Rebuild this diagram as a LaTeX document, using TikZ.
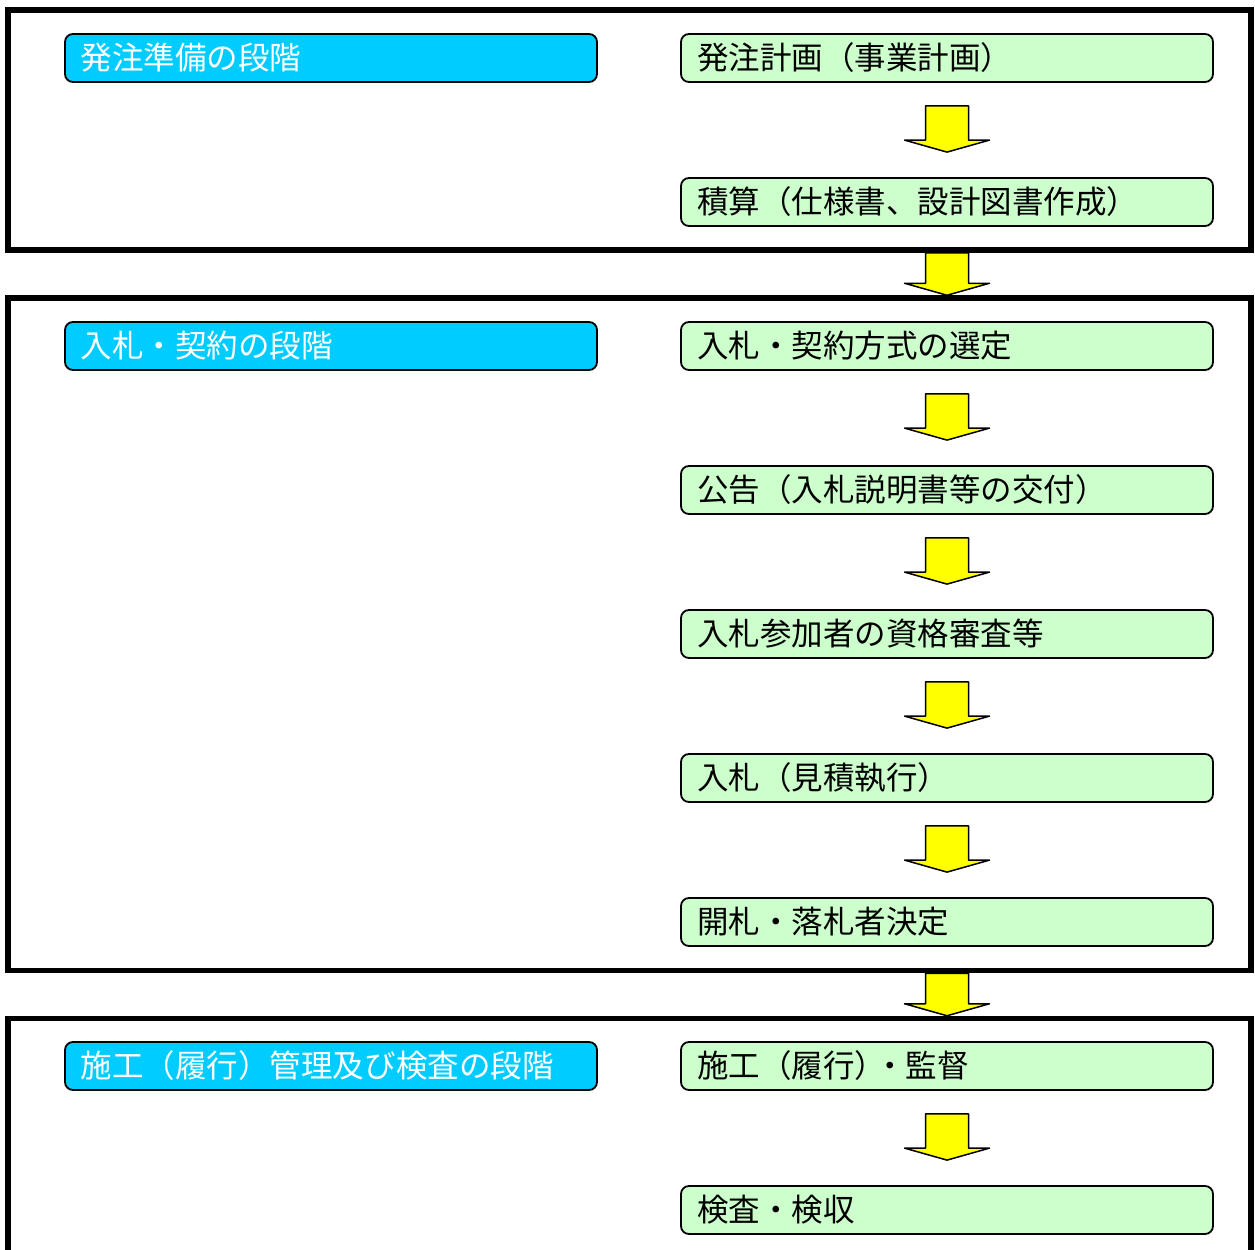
\documentclass[tikz,border=0pt]{standalone}
\usepackage{fontspec}
\setmainfont{Noto Sans CJK JP}
\usetikzlibrary{calc,backgrounds}
\definecolor{stageblue}{HTML}{00CCFF}
\definecolor{stepgreen}{HTML}{CCFFCC}
\definecolor{arrowyellow}{HTML}{FFFF00}
\tikzset{
  frame/.style={draw=black, line width=5.5bp, minimum width=1243bp, inner sep=0pt},
  stagebox/.style={draw=black, line width=1.8bp, rounded corners=8bp, fill=stageblue,
    text=white, minimum width=532bp, minimum height=48bp, text width=500bp,
    inner xsep=16bp, inner ysep=0pt, align=left, font=\fontsize{31.5bp}{34bp}\selectfont},
  stepbox/.style={draw=black, line width=1.8bp, rounded corners=8bp, fill=stepgreen,
    text=black, minimum width=532bp, minimum height=48bp, text width=500bp,
    inner xsep=16bp, inner ysep=0pt, align=left, font=\fontsize{31.5bp}{34bp}\selectfont},
  blockarrowsty/.style={fill=arrowyellow, draw=black, line width=1.5bp, line join=round}
}
% #1 start anchor, #2 downward offset, #3 end anchor, #4 upward offset
\newcommand{\blockarrow}[4]{%
  \draw[blockarrowsty]
    ($(#1)+(-21.5,#2)$) -- ($(#1)+(21.5,#2)$) -- ($(#3)+(21.5,-#4-12)$) --
    ($(#3)+(42.5,-#4-12)$) -- ($(#3)+(0,-#4)$) -- ($(#3)+(-42.5,-#4-12)$) --
    ($(#3)+(-21.5,-#4-12)$) -- cycle;}
\begin{document}
\begin{tikzpicture}[x=1bp,y=-1bp]
\useasboundingbox (0,0) rectangle (1255,1250);
% frames
\node[frame, minimum height=240bp] (f1) at (629.5,130) {};
\node[frame, minimum height=672.5bp] (f2) at (629.5,634.25) {};
\node[frame, minimum height=290bp] (f3) at (629.5,1163.5) {};
% stage labels
\node[stagebox] (s1) at (331,58) {発注準備の段階};
\node[stagebox] (s2) at (331,346) {入札・契約の段階};
\node[stagebox] (s3) at (331,1066) {施工（履行）管理及び検査の段階};
% steps
\node[stepbox] (g1) at (947,58) {発注計画（事業計画）};
\node[stepbox] (g2) at (947,202) {積算（仕様書、設計図書作成）};
\node[stepbox] (g3) at (947,346) {入札・契約方式の選定};
\node[stepbox] (g4) at (947,490) {公告（入札説明書等の交付）};
\node[stepbox] (g5) at (947,634) {入札参加者の資格審査等};
\node[stepbox] (g6) at (947,778) {入札（見積執行）};
\node[stepbox] (g7) at (947,922) {開札・落札者決定};
\node[stepbox] (g8) at (947,1066) {施工（履行）\hspace{-12bp}・監督};
\node[stepbox] (g9) at (947,1210) {検査・検収};
% arrows
\begin{scope}[on background layer]
\blockarrow{g1.south}{23}{g2.north}{25}
\blockarrow{g2.south |- f1.south}{0}{g3.north |- f2.north}{0}
\blockarrow{g3.south}{23}{g4.north}{25}
\blockarrow{g4.south}{23}{g5.north}{25}
\blockarrow{g5.south}{23}{g6.north}{25}
\blockarrow{g6.south}{23}{g7.north}{25}
\blockarrow{g7.south |- f2.south}{0}{g8.north |- f3.north}{0}
\blockarrow{g8.south}{23}{g9.north}{25}
\end{scope}
\end{tikzpicture}
\end{document}
